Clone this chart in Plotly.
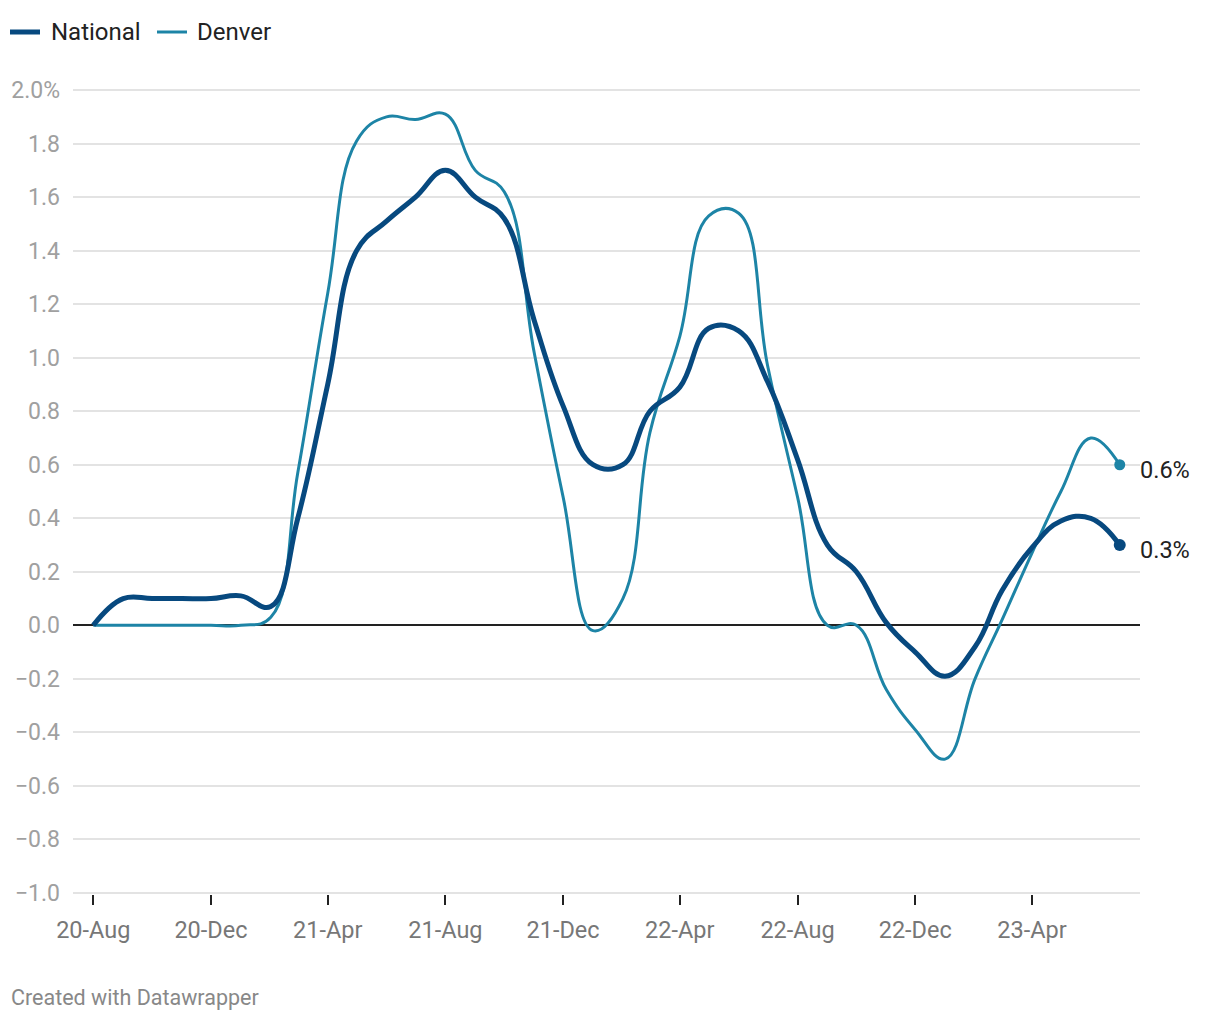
import pandas as pd
import plotly.graph_objects as go

# monthly series, Aug 2020 .. Jul 2023
months = pd.date_range("2020-08-01", "2023-07-01", freq="MS")

national = [0.00, 0.10, 0.10, 0.10, 0.10, 0.11, 0.07, 0.40, 0.90, 1.40, 1.51, 1.60,
            1.70, 1.60, 1.52, 1.14, 0.82, 0.60, 0.60, 0.80, 0.89, 1.11, 1.10, 0.91,
            0.62, 0.30, 0.20, 0.01, -0.10, -0.19, -0.08, 0.13, 0.29, 0.39, 0.40, 0.30]

denver = [0.00, 0.00, 0.00, 0.00, 0.00, 0.00, 0.03, 0.57, 1.24, 1.81, 1.90, 1.89,
          1.91, 1.70, 1.62, 1.02, 0.48, -0.02, 0.10, 0.72, 1.08, 1.53, 1.54, 0.97,
          0.48, 0.00, 0.00, -0.24, -0.39, -0.50, -0.20, 0.02, 0.27, 0.50, 0.70, 0.60]

y_ticks = [2.0, 1.8, 1.6, 1.4, 1.2, 1.0, 0.8, 0.6, 0.4, 0.2, 0.0, -0.2, -0.4, -0.6, -0.8, -1.0]
y_labels = ["2.0%", "1.8", "1.6", "1.4", "1.2", "1.0", "0.8", "0.6", "0.4", "0.2", "0.0",
            "\u22120.2", "\u22120.4", "\u22120.6", "\u22120.8", "\u22121.0"]
x_ticks = ["2020-08-01", "2020-12-01", "2021-04-01", "2021-08-01", "2021-12-01",
           "2022-04-01", "2022-08-01", "2022-12-01", "2023-04-01"]
x_labels = ["20-Aug", "20-Dec", "21-Apr", "21-Aug", "21-Dec", "22-Apr", "22-Aug", "22-Dec", "23-Apr"]

NAT_COLOR = "#07497f"
DEN_COLOR = "#1d84a6"

# page is drawn with an 8px body margin, so figure is a bit smaller
W, H = 1212, 1012
ML, MR, MT, MB = 65, 80, 81, 126
PW, PH = W - ML - MR, H - MT - MB


def px(x, y):
    # page pixel -> paper coords
    return (x - 8 - ML) / PW, 1 - (y - 8 - MT) / PH


fig = go.Figure()
fig.add_trace(go.Scatter(x=months, y=denver, mode="lines", name="Denver", showlegend=False,
                         line=dict(color=DEN_COLOR, width=3, shape="spline", smoothing=1.2)))
fig.add_trace(go.Scatter(x=months, y=national, mode="lines", name="National", showlegend=False,
                         line=dict(color=NAT_COLOR, width=5, shape="spline", smoothing=1.2)))

# end dots + value labels
fig.add_trace(go.Scatter(x=[months[-1]], y=[denver[-1]], mode="markers", showlegend=False,
                         marker=dict(color=DEN_COLOR, size=11)))
fig.add_trace(go.Scatter(x=[months[-1]], y=[national[-1]], mode="markers", showlegend=False,
                         marker=dict(color=NAT_COLOR, size=12)))
for val, txt in [(denver[-1], "0.6%"), (national[-1], "0.3%")]:
    fig.add_annotation(x=months[-1], y=val, text=txt, showarrow=False, xanchor="left",
                       xshift=18, yshift=-5, font=dict(size=23.5, color="#222"))

# legend drawn by hand
for x0, x1, col, w, name, tx in [(10, 40, NAT_COLOR, 5, "National", 49),
                                 (157, 187, DEN_COLOR, 3, "Denver", 195)]:
    a = px(x0, 32)
    b = px(x1, 32)
    fig.add_shape(type="line", xref="paper", yref="paper", x0=a[0], y0=a[1], x1=b[0], y1=b[1],
                  line=dict(color=col, width=w))
    t = px(tx, 32)
    fig.add_annotation(text=name, xref="paper", yref="paper", x=t[0], y=t[1],
                       xanchor="left", yanchor="middle", showarrow=False,
                       font=dict(size=24, color="#222"))

f = px(9, 997)
fig.add_annotation(text="Created with Datawrapper", xref="paper", yref="paper",
                   x=f[0], y=f[1], xanchor="left", yanchor="middle", showarrow=False,
                   font=dict(size=21.5, color="#888"))

fig.update_layout(
    width=W, height=H,
    margin=dict(l=ML, r=MR, t=MT, b=MB),
    paper_bgcolor="white", plot_bgcolor="white",
    font=dict(family="Roboto", size=22, color="#222"),
    showlegend=False,
)
fig.update_xaxes(type="date", range=["2020-07-11", "2023-07-22"], automargin=False,
                 tickvals=x_ticks, ticktext=x_labels, ticks="outside", ticklen=10,
                 tickwidth=2, tickcolor="#222", showgrid=False, showline=False, zeroline=False,
                 tickfont=dict(size=23.5, color="#777"), ticklabelstandoff=5)
fig.update_yaxes(range=[-1.004, 2.004], tickvals=y_ticks, ticktext=y_labels, automargin=False,
                 showgrid=True, gridcolor="#e3e3e3", gridwidth=1.5,
                 zeroline=True, zerolinecolor="#222", zerolinewidth=1.5,
                 tickfont=dict(size=23, color="#a0a0a0"), ticklabelstandoff=12)

fig.write_html("out.html")
